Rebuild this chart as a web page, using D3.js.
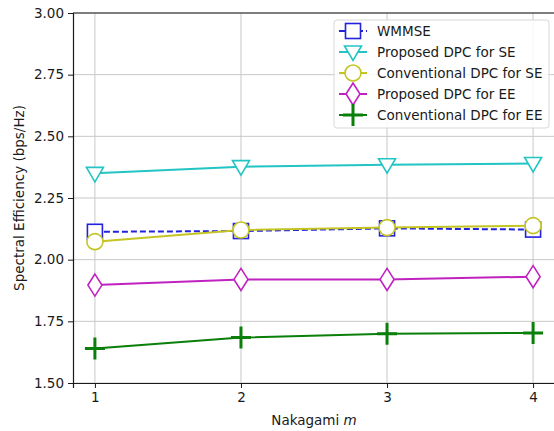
<!DOCTYPE html>
<html>
<head>
<meta charset="utf-8">
<script src="https://cdn.jsdelivr.net/npm/d3@7"></script>
<style>
  body { margin: 0; background: #fff; }
  text { font-family: "DejaVu Sans", sans-serif; fill: #1a1a1a; }
</style>
</head>
<body>
<div id="chart"></div>
<script>
const nakagami = [1, 2, 3, 4];
const wmmse = [2.113, 2.116, 2.127, 2.122];
const proposedSE = [2.350, 2.377, 2.385, 2.390];
const conventionalSE = [2.073, 2.120, 2.130, 2.138];
const proposedEE = [1.897, 1.920, 1.920, 1.931];
const conventionalEE = [1.640, 1.684, 1.700, 1.703];
const yTicks = [1.50, 1.75, 2.00, 2.25, 2.50, 2.75, 3.00];

const series = [
  {name: 'WMMSE', values: wmmse, color: '#2222dd', marker: 'square', dash: '6,3'},
  {name: 'Proposed DPC for SE', values: proposedSE, color: '#22c4c4', marker: 'triangle'},
  {name: 'Conventional DPC for SE', values: conventionalSE, color: '#c4c422', marker: 'circle'},
  {name: 'Proposed DPC for EE', values: proposedEE, color: '#c022c0', marker: 'diamond'},
  {name: 'Conventional DPC for EE', values: conventionalEE, color: '#0a7f0a', marker: 'plus'}
];

const W = 554, H = 431;
const margin = {top: 13, right: 0, bottom: 48, left: 73};
const fs = '13.5px';

const svg = d3.select('#chart').append('svg')
  .attr('width', W)
  .attr('height', H);

const x = d3.scaleLinear().domain([0.85, 4.15]).range([margin.left, 555]);
const y = d3.scaleLinear().domain([1.5, 3.0]).range([H - margin.bottom, margin.top]);

// grid
svg.append('g')
  .selectAll('line')
  .data(nakagami)
  .join('line')
  .attr('x1', d => x(d)).attr('x2', d => x(d))
  .attr('y1', y(1.5)).attr('y2', y(3.0))
  .attr('stroke', '#c8c8c8').attr('stroke-width', 1);

svg.append('g')
  .selectAll('line')
  .data(yTicks)
  .join('line')
  .attr('x1', x(0.85)).attr('x2', x(4.15))
  .attr('y1', d => y(d)).attr('y2', d => y(d))
  .attr('stroke', '#c8c8c8').attr('stroke-width', 1);

// axes
const xAxis = svg.append('g')
  .attr('transform', `translate(0,${y(1.5)})`)
  .call(d3.axisBottom(x).tickValues(nakagami).tickFormat(d3.format('d')).tickSizeOuter(0).tickSize(5).tickPadding(4));
const yAxis = svg.append('g')
  .attr('transform', `translate(${x(0.85)},0)`)
  .call(d3.axisLeft(y).tickValues(yTicks).tickFormat(d3.format('.2f')).tickSizeOuter(0).tickSize(5).tickPadding(4));

[xAxis, yAxis].forEach(a => {
  a.attr('font-size', null).attr('font-family', null);
  a.selectAll('text').style('font-size', fs).attr('fill', '#1a1a1a');
  a.selectAll('line').attr('stroke', '#1a1a1a');
  a.select('.domain').attr('stroke', '#1a1a1a').attr('stroke-width', 1.2);
});

// top spine
svg.append('line')
  .attr('x1', x(0.85)).attr('x2', W)
  .attr('y1', y(3.0)).attr('y2', y(3.0))
  .attr('stroke', '#1a1a1a').attr('stroke-width', 1.2);

// labels
svg.append('text')
  .attr('x', (x(0.85) + 555) / 2)
  .attr('y', 425)
  .attr('text-anchor', 'middle')
  .style('font-size', fs)
  .html('Nakagami <tspan font-style="italic">m</tspan>');

svg.append('text')
  .attr('transform', `translate(24,${(y(1.5) + y(3.0)) / 2}) rotate(-90)`)
  .attr('text-anchor', 'middle')
  .style('font-size', fs)
  .text('Spectral Efficiency (bps/Hz)');

function drawMarker(g, type, color) {
  const sw = 1.6;
  if (type === 'square') {
    g.append('rect').attr('x', -7.5).attr('y', -7.5).attr('width', 15).attr('height', 15)
      .attr('fill', 'white').attr('stroke', color).attr('stroke-width', sw);
  } else if (type === 'triangle') {
    g.append('path').attr('d', 'M-8.5,-6 L8.5,-6 L0,8.5 Z')
      .attr('fill', 'white').attr('stroke', color).attr('stroke-width', sw);
  } else if (type === 'circle') {
    g.append('circle').attr('r', 8)
      .attr('fill', 'white').attr('stroke', color).attr('stroke-width', sw);
  } else if (type === 'diamond') {
    g.append('path').attr('d', 'M0,-11 L7,0 L0,11 L-7,0 Z')
      .attr('fill', 'white').attr('stroke', color).attr('stroke-width', sw);
  } else if (type === 'plus') {
    g.append('path').attr('d', 'M-10,0 L10,0 M0,-11 L0,11')
      .attr('fill', 'none').attr('stroke', color).attr('stroke-width', 3);
  }
}

const line = d3.line().x(d => x(d[0])).y(d => y(d[1]));

series.forEach(s => {
  const pts = nakagami.map((m, i) => [m, s.values[i]]);
  svg.append('path')
    .datum(pts)
    .attr('d', line)
    .attr('fill', 'none')
    .attr('stroke', s.color)
    .attr('stroke-width', 2)
    .attr('stroke-dasharray', s.dash || null);
  pts.forEach(p => {
    const g = svg.append('g').attr('transform', `translate(${x(p[0])},${y(p[1])})`);
    drawMarker(g, s.marker, s.color);
  });
});

// legend
const lg = svg.append('g').attr('transform', 'translate(334,20)');
lg.append('rect')
  .attr('width', 215).attr('height', 108).attr('rx', 3)
  .attr('fill', 'white').attr('fill-opacity', 0.85)
  .attr('stroke', '#d8d8d8');
series.forEach((s, i) => {
  const row = lg.append('g').attr('transform', `translate(0,${11 + i * 21})`);
  row.append('line')
    .attr('x1', 5).attr('x2', 33)
    .attr('stroke', s.color).attr('stroke-width', 2)
    .attr('stroke-dasharray', s.dash || null);
  drawMarker(row.append('g').attr('transform', 'translate(19,0)'), s.marker, s.color);
  row.append('text')
    .attr('x', 43).attr('y', 0).attr('dy', '0.35em')
    .style('font-size', fs)
    .text(s.name);
});
</script>
</body>
</html>
